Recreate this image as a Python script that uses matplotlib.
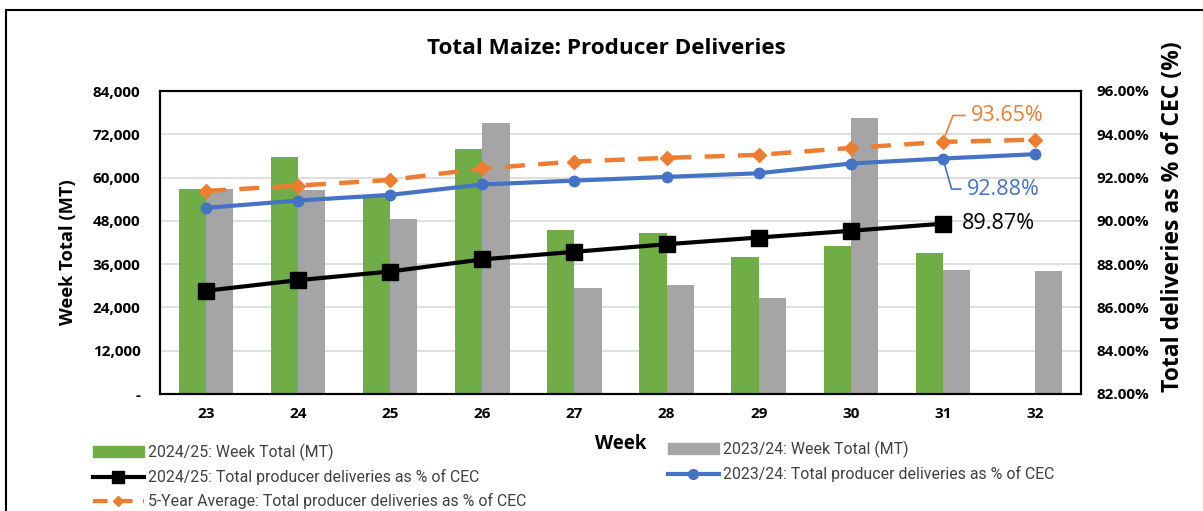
import matplotlib
matplotlib.use("Agg")
import matplotlib.pyplot as plt
import numpy as np
from matplotlib.patches import Patch
from matplotlib.lines import Line2D
from matplotlib.ticker import FuncFormatter

weeks = ["23", "24", "25", "26", "27", "28", "29", "30", "31", "32"]
week_total_2425 = [56800, 65800, 55100, 67900, 45400, 44700, 37900, 41100, 39200, np.nan]
week_total_2324 = [56700, 56500, 48600, 75000, 29300, 30100, 26700, 76500, 34500, 34200]
pct_2425 = [86.77, 87.26, 87.66, 88.22, 88.57, 88.92, 89.23, 89.54, 89.87, np.nan]
pct_2324 = [90.60, 90.94, 91.20, 91.68, 91.86, 92.03, 92.20, 92.65, 92.88, 93.08]
pct_5yr = [91.38, 91.63, 91.89, 92.42, 92.74, 92.91, 93.05, 93.37, 93.65, 93.75]

GREEN = "#70AD47"
GREY = "#A5A5A5"
BLUE = "#4472C4"
ORANGE = "#ED7D31"
FONT = ["Open Sans", "DejaVu Sans"]

plt.rcParams["font.family"] = FONT

W, H = 1203, 511
fig = plt.figure(figsize=(W / 100, H / 100), dpi=100)

# outer frame
fig.add_artist(plt.Rectangle((6 / W, -0.1), 1.2, (H - 10) / H + 0.1, transform=fig.transFigure,
                             fill=False, edgecolor="black", linewidth=1.5))

L, R, T, B = 160, 1081, 91, 394
ax = fig.add_axes([L / W, (H - B) / H, (R - L) / W, (B - T) / H])
x = np.arange(len(weeks))
bw = 0.295
ax.bar(x - bw / 2, week_total_2425, bw, color=GREEN, zorder=2)
ax.bar(x + bw / 2, week_total_2324, bw, color=GREY, zorder=2)
ax.set_xlim(-0.5, len(weeks) - 0.5)
ax.set_ylim(0, 84000)
ax.set_yticks(np.arange(0, 84001, 12000))
ax.yaxis.set_major_formatter(FuncFormatter(lambda v, p: "-" if v == 0 else f"{int(v):,}"))
ax.set_xticks(x)
ax.set_xticklabels(weeks)
ax.grid(axis="y", color="#D9D9D9", linewidth=1.2, zorder=0)
ax.set_axisbelow(True)
for s in ax.spines.values():
    s.set_linewidth(1.5)
ax.tick_params(axis="y", length=0, labelsize=11, pad=14)
ax.tick_params(axis="x", length=0, labelsize=11, pad=9)
for lab in ax.get_xticklabels() + ax.get_yticklabels():
    lab.set_fontweight("bold")
ax.set_ylabel("Week Total (MT)", fontsize=13.2, fontweight="bold")
ax.yaxis.set_label_coords((77 - L) / (R - L), (B - 252) / (B - T))
ax.set_xlabel("Week", fontsize=13.5, fontweight="bold", labelpad=10)

ax2 = ax.twinx()
ax2.set_ylim(82, 96)
ax2.set_yticks(np.arange(82, 96.01, 2))
ax2.yaxis.set_major_formatter(FuncFormatter(lambda v, p: f"{v:.2f}%"))
ax2.tick_params(length=0, labelsize=11, pad=11)
for lab in ax2.get_yticklabels():
    lab.set_fontweight("bold")
for s in ax2.spines.values():
    s.set_linewidth(1.5)
ax2.set_ylabel("Total deliveries as % of CEC (%)", fontsize=16.5, fontweight="bold")
ax2.yaxis.set_label_coords((1161 - L) / (R - L), (B - 217) / (B - T))

ax2.plot(x, pct_5yr, color=ORANGE, lw=3.2, ls=(0, (4.5, 3)), marker="D", ms=6.8, zorder=3)
ax2.plot(x, pct_2324, color=BLUE, lw=3, marker="o", ms=7.5, zorder=4)
ax2.plot(x, pct_2425, color="black", lw=3, marker="s", ms=11, zorder=5)

i = 8
ax2.annotate(f"{pct_5yr[i]:.2f}%", xy=(x[i], pct_5yr[i]), xytext=(20, 19), textcoords="offset points",
             ha="left", va="center", fontsize=15.5, color=ORANGE,
             arrowprops=dict(arrowstyle="-", color=ORANGE, lw=1.2, relpos=(0, 0.5),
                             connectionstyle="angle,angleA=0,angleB=69", shrinkA=2, shrinkB=5))
ax2.annotate(f"{pct_2324[i]:.2f}%", xy=(x[i], pct_2324[i]), xytext=(17, -22), textcoords="offset points",
             ha="left", va="center", fontsize=15.5, color=BLUE,
             arrowprops=dict(arrowstyle="-", color=BLUE, lw=1.2, relpos=(0, 0.5),
                             connectionstyle="angle,angleA=0,angleB=-74", shrinkA=2, shrinkB=5))
ax2.annotate(f"{pct_2425[i]:.2f}%", xy=(x[i], pct_2425[i]), xytext=(14, 0), textcoords="offset points",
             ha="left", va="center", fontsize=15.5, color="black")

fig.text((425 + 788) / 2 / W, 1 - 49 / H, "Total Maize: Producer Deliveries", ha="center", va="center",
         fontsize=16.2, fontweight="bold")

h_green = Patch(color=GREEN)
h_grey = Patch(color=GREY)
h_black = Line2D([], [], color="black", lw=3, marker="s", ms=8)
h_blue = Line2D([], [], color=BLUE, lw=3, marker="o", ms=7)
h_orange = Line2D([], [], color=ORANGE, lw=3, ls=(0, (3.5, 2.5)), marker="D", ms=5)

common = dict(frameon=False, handlelength=3.2, handletextpad=0.3, labelspacing=0.5,
              borderaxespad=0, borderpad=0, labelcolor="#404040",
              prop=dict(family=["Roboto", "DejaVu Sans"], size=11.4))
leg1 = fig.legend([h_green, h_black, h_orange],
                  ["2024/25: Week Total (MT)", "2024/25: Total producer deliveries as % of CEC",
                   "5-Year Average: Total producer deliveries as % of CEC"],
                  loc="upper left", bbox_to_anchor=(93 / W, 1 - 444 / H), **common)
leg2 = fig.legend([h_grey, h_blue],
                  ["2023/24: Week Total (MT)", "2023/24: Total producer deliveries as % of CEC"],
                  loc="upper left", bbox_to_anchor=(668 / W, 1 - 441 / H), **common)

fig.savefig("out.png", dpi=100)
